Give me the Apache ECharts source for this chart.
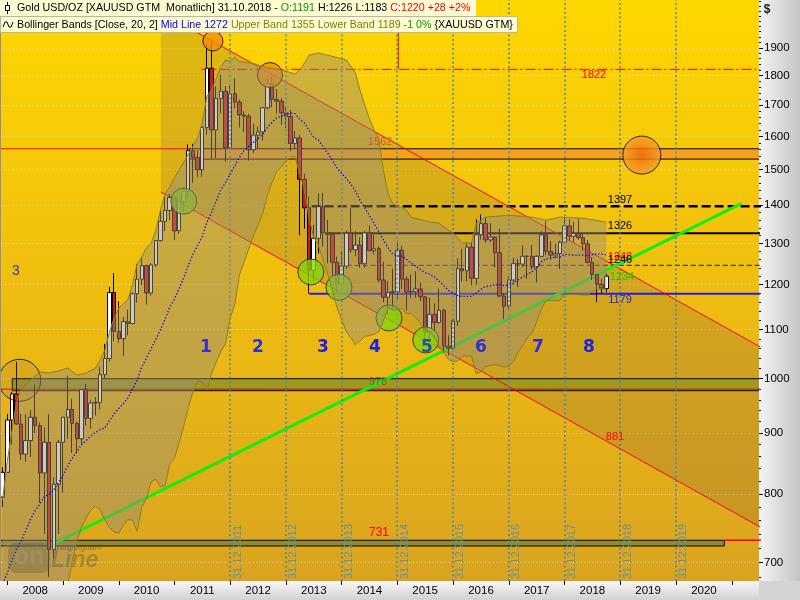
<!DOCTYPE html>
<html>
<head>
<meta charset="utf-8">
<title>Gold USD/OZ</title>
<script src="https://cdn.jsdelivr.net/npm/echarts@6.0.0/dist/echarts.min.js"></script>
<style>
html,body{margin:0;padding:0;background:#dcdcdc;}
#chart{width:800px;height:600px;}
</style>
</head>
<body>
<div id="chart"></div>
<script>
// ================= DATA =================
// monthly candles Dec 2007 .. Oct 2018
const firstYear = 2007, firstMonth = 12, monthCount = 131;
const openP = [795,834,923,971,916,864,887,928,913,833,884,718,815,
 884,928,942,917,890,979,926,954,955,1008,1040,1182,
 1096,1081,1117,1113,1179,1213,1245,1181,1247,1307,1357,1386,
 1421,1332,1409,1439,1556,1536,1500,1628,1826,1620,1722,1746,
 1565,1738,1710,1668,1664,1559,1604,1614,1691,1772,1719,1713,
 1675,1663,1578,1595,1472,1393,1234,1313,1396,1327,1323,1253,
 1202,1244,1326,1284,1296,1250,1327,1282,1287,1211,1171,1182,
 1184,1283,1213,1183,1184,1190,1172,1095,1133,1115,1142,1065,
 1061,1118,1238,1233,1291,1215,1322,1351,1309,1316,1277,1174,
 1151,1211,1250,1249,1268,1268,1242,1268,1322,1280,1271,1275,
 1303,1345,1318,1325,1315,1299,1253,1224,1201,1191];
const highP = [842,934,975,1033,934,933,941,989,919,910,934,826,888,
 928,1006,962,920,980,990,960,965,1024,1070,1195,1227,
 1162,1127,1143,1182,1249,1266,1248,1251,1308,1388,1424,1431,
 1424,1412,1448,1575,1577,1557,1632,1913,1921,1763,1803,1764,
 1764,1791,1718,1680,1671,1640,1630,1694,1790,1796,1754,1723,
 1696,1684,1617,1605,1488,1424,1348,1433,1434,1361,1327,1267,
 1280,1332,1392,1331,1315,1332,1345,1322,1292,1255,1208,1238,
 1307,1294,1220,1224,1232,1205,1174,1170,1157,1191,1146,1088,
 1123,1263,1287,1303,1304,1362,1375,1367,1352,1318,1338,1180,
 1220,1264,1262,1295,1270,1296,1270,1331,1357,1306,1299,1307,
 1366,1362,1356,1365,1326,1309,1266,1225,1214,1226];
const lowP = [780,834,880,915,854,851,859,900,786,740,681,705,740,
 802,890,866,865,880,913,908,931,942,1001,1034,1075,
 1072,1045,1088,1111,1159,1199,1155,1175,1242,1305,1331,1360,
 1309,1324,1380,1418,1462,1478,1480,1605,1532,1534,1672,1523,
 1563,1689,1628,1613,1527,1549,1564,1587,1686,1693,1672,1636,
 1626,1555,1562,1321,1338,1180,1208,1275,1292,1251,1221,1182,
 1200,1238,1277,1268,1240,1240,1280,1273,1206,1160,1131,1142,
 1167,1190,1142,1170,1170,1162,1077,1080,1098,1113,1052,1046,
 1060,1108,1208,1208,1199,1200,1310,1301,1303,1241,1171,1122,
 1146,1206,1194,1241,1214,1236,1205,1267,1271,1260,1264,1237,
 1302,1307,1303,1309,1281,1251,1211,1160,1180,1183];
const closeP = [834,923,971,916,864,887,928,913,833,884,718,815,884,
 928,942,917,890,979,926,954,955,1008,1040,1182,1096,
 1081,1117,1113,1179,1213,1245,1181,1247,1307,1357,1386,1421,
 1332,1409,1439,1556,1536,1500,1628,1826,1620,1722,1746,1565,
 1738,1710,1668,1664,1559,1604,1614,1691,1772,1719,1713,1675,
 1663,1578,1595,1472,1393,1234,1313,1396,1327,1323,1253,1202,
 1244,1326,1284,1296,1250,1327,1282,1287,1211,1171,1182,1184,
 1283,1213,1183,1184,1190,1172,1095,1133,1115,1142,1065,1061,
 1118,1238,1233,1291,1215,1322,1351,1309,1316,1277,1174,1151,
 1211,1250,1249,1268,1268,1242,1268,1322,1280,1271,1275,1303,
 1345,1318,1325,1315,1299,1253,1224,1201,1192,1220];

// Bollinger mid line (monthly)
const bbMid = [672,
 686,704,718,730,745,761,774,784,796,799,806,817,
 830,845,857,868,880,887,895,901,906,909,922,934,
 944,953,963,980,997,1023,1041,1060,1079,1099,1123,1149,
 1167,1191,1215,1245,1272,1295,1317,1354,1381,1411,1443,1462,
 1488,1511,1536,1557,1569,1581,1593,1606,1628,1644,1658,1664,
 1670,1674,1672,1654,1643,1619,1597,1589,1568,1549,1528,1505,
 1489,1475,1459,1439,1413,1393,1372,1352,1330,1309,1289,1274,
 1269,1268,1261,1251,1244,1236,1228,1225,1218,1209,1198,1187,
 1180,1175,1173,1173,1173,1181,1189,1196,1197,1200,1200,1198,
 1199,1203,1211,1218,1225,1230,1241,1254,1262,1263,1266,1266,
 1273,1272,1271,1271,1271,1269,1272,1274,1273,1272];
// Bollinger upper / lower band
const bbUpper = [['2007-12',790],['2008-01',852],['2008-02',905],['2008-03',955],['2008-04',980],['2008-06',997],
 ['2008-08',1013],['2008-10',1011],['2008-12',1015],['2009-02',1021],['2009-04',1007],['2009-06',1011],['2009-08',1021],
 ['2009-09',1037],['2009-10',1057],['2009-11',1095],['2009-12',1125],['2010-01',1147],['2010-03',1165],['2010-04',1200],
 ['2010-05',1250],['2010-06',1266],['2010-07',1290],['2010-08',1300],['2010-09',1334],['2010-10',1387],['2010-11',1433],
 ['2010-12',1450],['2011-01',1477],['2011-02',1499],['2011-03',1520],['2011-04',1545],['2011-05',1570],['2011-06',1595],
 ['2011-07',1640],['2011-08',1729],['2011-09',1751],['2011-10',1790],['2011-11',1830],['2011-12',1855],['2012-01',1851],
 ['2012-02',1866],['2012-03',1850],['2012-06',1843],['2012-09',1828],['2012-12',1820],['2013-03',1806],['2013-04',1820],
 ['2013-05',1843],['2013-06',1873],['2013-08',1881],['2013-10',1873],['2014-02',1855],['2014-04',1810],['2014-05',1750],
 ['2014-06',1700],['2014-07',1657],['2014-08',1620],['2014-09',1590],['2014-10',1500],['2014-11',1430],['2014-12',1405],
 ['2015-03',1387],['2015-04',1368],['2015-08',1355],['2015-10',1352],['2015-11',1342],['2016-01',1326],['2016-03',1301],
 ['2016-05',1301],['2016-06',1352],['2016-08',1368],['2017-01',1373],['2017-06',1368],['2017-09',1360],['2017-12',1368],
 ['2018-05',1365],['2018-10',1355]];
const bbLower = [['2007-12',560],['2008-01',520],['2008-02',503],['2008-03',481],['2008-04',480],['2008-06',525],
 ['2008-08',555],['2008-10',587],['2008-12',619],['2009-02',669],['2009-03',702],['2009-04',729],['2009-05',750],
 ['2009-06',763],['2009-07',775],['2009-08',781],['2009-09',775],['2009-10',761],['2009-11',749],['2009-12',743],
 ['2010-01',741],['2010-02',753],['2010-03',761],['2010-04',760],['2010-05',744],['2010-06',780],['2010-07',792],
 ['2010-08',819],['2010-09',823],['2010-10',811],['2010-11',813],['2010-12',848],['2011-01',857],['2011-02',883],
 ['2011-03',910],['2011-04',945],['2011-05',974],['2011-06',995],['2011-07',994],['2011-08',978],['2011-09',1010],
 ['2011-10',1032],['2011-11',1055],['2011-12',1069],['2012-01',1125],['2012-02',1156],['2012-03',1222],['2012-06',1319],
 ['2012-08',1377],['2012-09',1428],['2012-10',1463],['2012-11',1494],['2012-12',1507],['2013-01',1525],['2013-02',1538],
 ['2013-03',1538],['2013-04',1488],['2013-05',1443],['2013-06',1365],['2013-07',1316],['2013-08',1295],['2013-09',1258],
 ['2013-10',1225],['2013-11',1188],['2013-12',1148],['2014-01',1120],['2014-02',1095],['2014-03',1083],['2014-04',1068],
 ['2014-05',1076],['2014-06',1086],['2014-07',1087],['2014-08',1090],['2014-09',1095],['2014-10',1118],['2014-11',1148],
 ['2014-12',1143],['2015-01',1143],['2015-02',1146],['2015-03',1135],['2015-04',1134],['2015-05',1126],['2015-06',1114],
 ['2015-07',1100],['2015-08',1095],['2015-09',1083],['2015-10',1066],['2015-11',1054],['2015-12',1038],['2016-01',1034],
 ['2016-02',1035],['2016-03',1045],['2016-05',1045],['2016-06',1010],['2016-07',1013],['2016-08',1024],['2016-10',1028],
 ['2016-12',1023],['2017-01',1025],['2017-02',1034],['2017-03',1052],['2017-04',1067],['2017-05',1082],['2017-06',1092],
 ['2017-07',1116],['2017-08',1144],['2017-09',1164],['2017-12',1164],['2018-01',1178],['2018-06',1176],['2018-07',1184],
 ['2018-08',1190],['2018-10',1189]];

// drawn trend lines and levels: [date, price]
const END = '2021-08-07';
const channelUpper = [['2010-10-04',2035],[END,1058]];
const channelLower = [['2010-10-04',1436],[END,746]];
const greenTrend = [['2008-10-02',723],['2021-03-06',1405]];
const level1822 = [['2011-06-27',1822],[END,1822]];
const marker1822 = [['2015-01-07',1822],['2015-01-07',2300]];
const level1397 = [['2013-06-18',1397],[END,1397]];
const level1326 = [['2013-09-24',1326],[END,1326]];
const level1246 = [['2014-02-03',1246],[END,1246]];
const level1179 = [['2013-06-02',1179],[END,1179]];
const line1562 = [['2007-10-01',1562],['2011-04-11',1562]];
const line980 = [['2007-10-01',980],[END,980]];
const line731 = [['2020-11-13',731],[END,731]];
// zones: [from, to, low, high]
const zone1562 = ['2011-04-11', END, 1531, 1562];
const zone978 = ['2008-02-03', END, 977, 1000];
const zone731 = ['2007-10-01', '2020-11-13', 723, 731];
// circle marks: [date, price]
const greenMarks = [['2011-03-03',1411],['2013-06-13',1230],['2013-12-14',1194],['2014-11-07',1125],['2015-07-06',1078]];
const orangeMarks = [['2011-09-10',1925],['2012-09-18',1802]];
const bigOrangeMark = [['2019-05-22',1543]];
const ringMark = [['2008-03-23',997]];
// axis ticks / labels
const yLabels = [700,800,900,1000,1100,1200,1300,1400,1500,1600,1700,1800,1900];
const yearLabels = [2008,2009,2010,2011,2012,2013,2014,2015,2016,2017,2018,2019,2020];
const yearEnds = [2011,2012,2013,2014,2015,2016,2017,2018,2019];

// ================= BUILD =================
const T = s => { const p = s.split('-').map(Number); return Date.UTC(p[0], p[1] - 1, p[2] || 1); };
const months = [];
for (let i = 0; i < monthCount; i++) {
  const k = firstMonth - 1 + i;
  months.push((firstYear + Math.floor(k / 12)) + '-' + String(k % 12 + 1).padStart(2, '0'));
}
const Y_MIN = 675.5, Y_MAX = 2084.4;
const L10 = v => Math.log10(v);
const minorTicks = [];
for (let v = 680; v <= 2080; v += 20) minorTicks.push(L10(v));
const FONT = '"Liberation Sans", Arial, sans-serif';

function lineSeries(pts, style, z) {
  return { type: 'line', data: pts.map(p => [T(p[0]), p[1]]), showSymbol: false, symbol: 'none',
    silent: true, z: z, lineStyle: style, animation: false, clip: true };
}
function zoneSeries(b, fill, z) {
  return { type: 'custom', clip: true, silent: true, z: z,
    data: [[T(b[0]), T(b[1]), b[2], b[3]]], encode: { x: [0, 1], y: [2, 3] },
    renderItem: (params, api) => {
      const a = api.coord([api.value(0), api.value(3)]);
      const c = api.coord([api.value(1), api.value(2)]);
      return { type: 'rect', shape: { x: a[0], y: a[1], width: c[0] - a[0], height: c[1] - a[1] },
        style: { fill: fill, stroke: '#000', lineWidth: 1 } };
    } };
}
function polySeries(top, bottom, fill, z) {
  return { type: 'custom', clip: true, silent: true, z: z, data: [[T('2015-01-01'), 1200]],
    renderItem: (params, api) => {
      const pts = top.map(p => api.coord([T(p[0]), p[1]]))
        .concat(bottom.slice().reverse().map(p => api.coord([T(p[0]), p[1]])));
      return { type: 'polygon', shape: { points: pts }, style: { fill: fill } };
    } };
}
function marks(pts, size, style, z) {
  return { type: 'scatter', data: pts.map(p => [T(p[0]), p[1]]), symbol: 'circle', symbolSize: size,
    silent: true, z: z, itemStyle: style, animation: false };
}

const candleData = months.map((m, i) => [T(m), openP[i], closeP[i], lowP[i], highP[i]]);

const series = [
  polySeries(channelUpper, channelLower, 'rgba(120,85,70,0.22)', 1),
  zoneSeries(zone731, '#8f8c2c', 2),
  zoneSeries(zone978, '#9d9a1c', 2),
  zoneSeries(zone1562, '#f4a21c', 2),
  { type: 'line', data: [], z: 2, silent: true,
    markLine: { silent: true, symbol: ['none', 'none'], animation: false,
      lineStyle: { color: '#4a86b0', type: [2, 2.5], width: 1.5 },
      label: { show: true, position: 'insideStartBottom', formatter: '{b}', color: '#5f93a6',
        fontSize: 11, fontFamily: FONT, distance: 2 },
      data: yearEnds.map(y => ({ name: '31.12.' + y, xAxis: T(y + '-12-31') })) } },
  lineSeries(line1562, { color: '#ff0000', width: 1 }, 3),
  lineSeries(line980, { color: '#d01010', width: 1 }, 3),
  lineSeries(line731, { color: '#ff0000', width: 1.5 }, 3),
  lineSeries(level1822, { color: '#ff0000', width: 1, type: [10, 3, 2, 3] }, 3),
  lineSeries(marker1822, { color: '#ff0000', width: 1 }, 3),
  lineSeries(level1397, { color: '#000000', width: 2.5, type: [9, 4] }, 3),
  lineSeries(level1326, { color: '#000000', width: 2 }, 3),
  lineSeries(level1246, { color: '#202020', width: 1, type: [5, 3] }, 3),
  lineSeries(level1179, { color: '#1e1ee8', width: 2 }, 3),
  lineSeries(channelUpper, { color: '#ff0000', width: 1 }, 3),
  lineSeries(channelLower, { color: '#ff0000', width: 1 }, 3),
  lineSeries(greenTrend, { color: '#11ee11', width: 3 }, 3),
  { type: 'candlestick', data: candleData, encode: { x: 0, y: [1, 2, 3, 4] }, barWidth: 4, z: 4,
    silent: true, animation: false,
    itemStyle: { color: '#ffffff', color0: '#e01414', borderColor: '#000000', borderColor0: '#000000', borderWidth: 1 } },
  marks(greenMarks, 26, { color: '#86d20e', borderColor: '#1e1e1e', borderWidth: 1 }, 5),
  marks(orangeMarks, 22, { color: '#f58c0a', borderColor: '#000', borderWidth: 1 }, 5),
  marks(ringMark, 42, { color: 'rgba(140,110,80,0.22)', borderColor: '#000', borderWidth: 1 }, 5),
  polySeries(bbUpper, bbLower, 'rgba(152,142,120,0.47)', 6),
  lineSeries(bbUpper, { color: '#8a8220', width: 1 }, 7),
  lineSeries(bbLower, { color: '#8a8220', width: 1 }, 7),
  { type: 'line', data: months.map((m, i) => [T(m), bbMid[i]]), showSymbol: false, symbol: 'none', silent: true,
    z: 7, animation: false, lineStyle: { color: '#0000ff', width: 1.3, type: [1.3, 2] } },
  marks(bigOrangeMark, 38, { color: { type: 'radial', x: 0.5, y: 0.5, r: 0.5,
    colorStops: [{ offset: 0, color: '#f06400' }, { offset: 1, color: '#f4a030' }] }, borderColor: '#000', borderWidth: 1 }, 8)
];
// orange marks: two sizes
series[19].symbolSize = (val, params) => params.dataIndex === 0 ? 20 : 25;

// ---- decorative / text layer ----
function txt(x, y, s, color, font, align) {
  return { type: 'text', x: x, y: y, z: 100, silent: true,
    style: { text: s, fill: color, font: font || ('11px ' + FONT), align: align || 'center', verticalAlign: 'middle',
      textAlign: align || 'center', textVerticalAlign: 'middle' } };
}
const measureCtx = document.createElement('canvas').getContext('2d');
function textRow(x0, y, parts, font) {
  measureCtx.font = font;
  let x = x0;
  const out = [];
  parts.forEach(p => {
    out.push({ type: 'text', x: x, y: y, z: 101, silent: true,
      style: { text: p[0], fill: p[1], font: font, align: 'left', textAlign: 'left', verticalAlign: 'middle', textVerticalAlign: 'middle' } });
    x += measureCtx.measureText(p[0]).width;
  });
  return out;
}
const legendFont = '10.7px ' + FONT;
const legendRow1 = [['Gold USD/OZ [XAUUSD GTM  Monatlich] 31.10.2018 - ', '#000'], ['O:1191', '#009a00'],
  [' H:1226 L:1183 ', '#000'], ['C:1220 +28 +2%', '#ff0000']];
const legendRow2 = [['Bollinger Bands [Close, 20, 2] ', '#000'], ['Mid Line 1272', '#0000ff'],
  [' Upper Band 1355 Lower Band 1189', '#808000'], [' -1 0%', '#009a00'], [' {XAUUSD GTM}', '#000']];
const numFont = 'bold 17px "DejaVu Sans", sans-serif';
const graphics = [
  { type: 'rect', z: -10, shape: { x: 759, y: 0, width: 41, height: 600 },
    style: { fill: { type: 'linear', x: 0, y: 0, x2: 1, y2: 0, colorStops: [{ offset: 0, color: '#f4f4f4' }, { offset: 1, color: '#c4c4c4' }] } } },
  { type: 'rect', z: -10, shape: { x: 0, y: 581, width: 759, height: 19 },
    style: { fill: { type: 'linear', x: 0, y: 0, x2: 0, y2: 1, colorStops: [{ offset: 0, color: '#f6f6f6' }, { offset: 1, color: '#d2d2d2' }] } } },
  { type: 'rect', z: -9, shape: { x: 759, y: 581, width: 41, height: 19 }, style: { fill: '#d4d4d4' } },
  { type: 'rect', z: 99, shape: { x: 0, y: 0, width: 1, height: 581 }, style: { fill: '#909090' } },
  txt(767, 10, '$', '#202020', 'bold 12px ' + FONT),
  { type: 'rect', z: 99, shape: { x: 0, y: 0, width: 476, height: 16 }, style: { fill: 'rgba(255,255,228,0.93)' } },
  { type: 'rect', z: 99, shape: { x: 0.5, y: 16.5, width: 517, height: 16 }, style: { fill: 'rgba(255,255,228,0.93)', stroke: '#b8b8a0', lineWidth: 1 } },
  { type: 'line', z: 100, shape: { x1: 7.5, y1: 2, x2: 7.5, y2: 14 }, style: { stroke: '#000', lineWidth: 1 } },
  { type: 'rect', z: 101, shape: { x: 5.5, y: 5.5, width: 4, height: 5 }, style: { fill: '#fff', stroke: '#000', lineWidth: 1 } },
  { type: 'polyline', z: 100, shape: { points: [[3, 27], [5, 22], [7, 22], [9, 27], [11, 27], [13, 22]] }, style: { stroke: '#000', lineWidth: 1, fill: null } }
].concat(textRow(17, 8, legendRow1, legendFont), textRow(17, 25, legendRow2, legendFont), [
  txt(594, 75, '1822', '#ff0000'),
  txt(380, 142, '1562', '#c85a46'),
  txt(620, 200, '1397', '#000'),
  txt(620, 226, '1326', '#000'),
  txt(620, 257, '1248', '#ff0000'),
  txt(620, 260, '1246', '#000'),
  txt(622, 277, '1234', '#00d400'),
  txt(620, 300, '1179', '#2020e0'),
  txt(615, 437, '881', '#ff0000'),
  txt(379, 533, '731', '#ff0000', '12px ' + FONT),
  txt(378, 382, '978', '#6e6a18'),
  txt(16, 271, '3', '#3030d0', '14px ' + FONT),
  txt(206, 348, '1', '#3030d0', numFont), txt(258, 348, '2', '#3030d0', numFont),
  txt(323, 348, '3', '#2020e0', numFont), txt(375, 348, '4', '#2020e0', numFont),
  txt(427, 348, '5', '#2050a0', numFont), txt(481, 348, '6', '#3030d0', numFont),
  txt(538, 348, '7', '#3030d0', numFont), txt(589, 348, '8', '#2020e0', numFont),
  { type: 'rect', z: 90, shape: { x: 8, y: 543, width: 42, height: 30, r: 8 }, style: { fill: 'rgba(90,90,80,0.33)' } },
  txt(29, 557, 'on', 'rgba(160,150,110,0.6)', 'bold 25px ' + FONT),
  txt(51, 561, 'Line', 'rgba(90,90,80,0.42)', 'bold italic 23px ' + FONT, 'left'),
  txt(54, 548, 'tradesignal®', 'rgba(90,90,80,0.5)', 'bold 8px ' + FONT, 'left')
]);

const option = {
  animation: false,
  backgroundColor: '#dcdcdc',
  textStyle: { fontFamily: FONT },
  grid: { left: 1, right: 41, top: 0, bottom: 19, show: true, borderWidth: 0,
    backgroundColor: { type: 'linear', x: 0, y: 0, x2: 0, y2: 1,
      colorStops: [{ offset: 0, color: '#ffd700' }, { offset: 0.5, color: '#efbd10' }, { offset: 1, color: '#d9a320' }] } },
  xAxis: [{ type: 'value', min: T('2007-11-21'), max: T('2021-06-28'),
    axisLine: { show: false },
    axisTick: { show: true, customValues: yearLabels.concat([2021]).map(y => T(y + '-01-01')), length: 4, lineStyle: { color: '#000' } },
    axisLabel: { customValues: yearLabels.map(y => T(y + '-07-02')), formatter: v => String(new Date(v).getUTCFullYear()),
      color: '#000', fontSize: 11.5, fontFamily: FONT, margin: 4 },
    splitLine: { show: false } }],
  yAxis: [
    { type: 'log', logBase: 10, min: Y_MIN, max: Y_MAX, show: false },
    { type: 'value', min: L10(Y_MIN), max: L10(Y_MAX), position: 'right', axisLine: { show: false },
      axisTick: { show: true, customValues: yLabels.map(L10), length: 4, lineStyle: { color: '#000' } },
      axisLabel: { customValues: yLabels.map(L10), formatter: v => String(Math.round(Math.pow(10, v))),
        color: '#000', fontSize: 11.5, fontFamily: FONT, margin: 5 },
      splitLine: { show: true, lineStyle: { color: 'rgba(228,228,228,0.9)', type: [1, 3], width: 1 } } },
    { type: 'value', min: L10(Y_MIN), max: L10(Y_MAX), position: 'right', axisLine: { show: false },
      axisTick: { show: true, customValues: minorTicks, length: 2, lineStyle: { color: '#000' } },
      axisLabel: { show: false }, splitLine: { show: false } }
  ],
  series: series,
  graphic: { elements: graphics }
};

const chart = echarts.init(document.getElementById('chart'), null, { renderer: 'canvas' });
chart.setOption(option);
</script>
</body>
</html>
